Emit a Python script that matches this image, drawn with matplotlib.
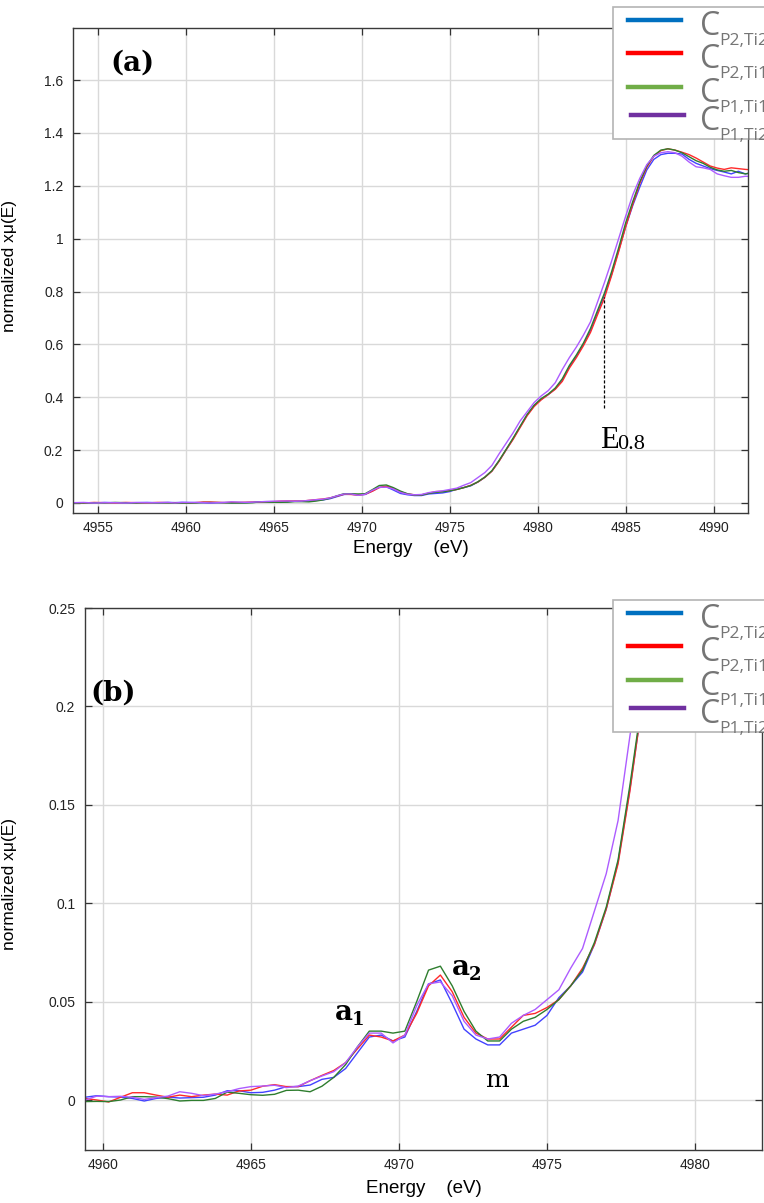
import matplotlib
matplotlib.use("Agg")
import matplotlib.pyplot as plt
from matplotlib.lines import Line2D
from matplotlib.patches import Rectangle

plt.rcParams['font.family'] = ['Liberation Sans', 'DejaVu Sans']

# energy grid (eV)
energy = [4953.6, 4954.2, 4954.8, 4955.4, 4956.0, 4956.6, 4957.2, 4957.8, 4958.4, 4959.0,
          4959.4, 4959.8, 4960.2, 4960.6, 4961.0, 4961.4, 4961.8, 4962.2, 4962.6, 4963.0,
          4963.4, 4963.8, 4964.2, 4964.6, 4965.0, 4965.4, 4965.8, 4966.2, 4966.6, 4967.0,
          4967.4, 4967.8, 4968.2, 4968.6, 4969.0, 4969.4, 4969.8, 4970.2, 4970.6, 4971.0,
          4971.4, 4971.8, 4972.2, 4972.6, 4973.0, 4973.4, 4973.8, 4974.2, 4974.6, 4975.0,
          4975.4, 4975.8, 4976.2, 4976.6, 4977.0, 4977.4, 4977.8, 4978.2,
          4978.6, 4979.0, 4979.4, 4979.8, 4980.2, 4980.6, 4981.0, 4981.4, 4981.8, 4982.2,
          4982.6, 4983.0, 4983.4, 4983.8, 4984.2, 4984.6, 4985.0, 4985.4, 4985.8, 4986.2,
          4986.6, 4987.0, 4987.4, 4987.8, 4988.2, 4988.6, 4989.0, 4989.4, 4989.8, 4990.2,
          4990.6, 4991.0, 4991.4, 4991.8, 4992.2, 4992.6]

# normalized absorption, one list per sample
mu_p2_ti2 = [0.000, 0.001, 0.000, 0.002, 0.001, 0.000, 0.001, 0.002, 0.001, 0.002,
             0.0014, 0.0022, 0.0017, 0.0015, 0.0008, -0.0005, 0.0008, 0.0015, 0.0010, 0.0012,
             0.0014, 0.0025, 0.0047, 0.0047, 0.0037, 0.0039, 0.0050, 0.0068, 0.0068, 0.0076,
             0.0105, 0.0115, 0.016, 0.024, 0.032, 0.033, 0.030, 0.032, 0.045, 0.059,
             0.061, 0.049, 0.036, 0.031, 0.028, 0.028, 0.034, 0.036, 0.038, 0.043,
             0.052, 0.058, 0.065, 0.079, 0.097, 0.121, 0.158, 0.200,
             0.242, 0.288, 0.332, 0.368, 0.392, 0.41, 0.432, 0.465, 0.515, 0.555,
             0.6, 0.652, 0.72, 0.788, 0.865, 0.955, 1.045, 1.125, 1.195, 1.26,
             1.3, 1.318, 1.323, 1.323, 1.32, 1.3, 1.285, 1.275, 1.265, 1.258,
             1.252, 1.245, 1.255, 1.245, 1.25, 1.248]
mu_p2_ti1 = [0.001, 0.000, 0.002, 0.001, 0.000, 0.002, 0.001, 0.000, 0.002, 0.001,
             0.0008, 0.0000, -0.0010, 0.0014, 0.0037, 0.0037, 0.0025, 0.0014, 0.0025, 0.0017,
             0.0025, 0.0030, 0.0025, 0.0046, 0.0050, 0.0070, 0.0078, 0.0068, 0.0068, 0.0098,
             0.0125, 0.0150, 0.019, 0.026, 0.033, 0.032, 0.030, 0.033, 0.044, 0.058,
             0.0635, 0.055, 0.042, 0.034, 0.031, 0.031, 0.037, 0.043, 0.044, 0.047,
             0.051, 0.058, 0.067, 0.079, 0.097, 0.120, 0.157, 0.200,
             0.24, 0.285, 0.33, 0.365, 0.39, 0.41, 0.43, 0.46, 0.51, 0.55,
             0.595, 0.645, 0.712, 0.777, 0.86, 0.95, 1.045, 1.13, 1.209, 1.27,
             1.312, 1.333, 1.34, 1.335, 1.327, 1.318, 1.305, 1.29, 1.275, 1.267,
             1.262, 1.268, 1.265, 1.262, 1.26, 1.258]
mu_p1_ti1 = [0.000, 0.000, 0.001, 0.000, 0.002, 0.001, 0.000, 0.001, 0.000, 0.000,
             -0.0008, -0.0007, -0.0008, 0.0000, 0.0017, 0.0017, 0.0015, 0.0007, -0.0005, -0.0002,
             -0.0002, 0.0008, 0.0040, 0.0034, 0.0027, 0.0024, 0.0029, 0.0049, 0.0050, 0.0042,
             0.0070, 0.0115, 0.018, 0.027, 0.035, 0.035, 0.034, 0.035, 0.050, 0.066,
             0.068, 0.058, 0.045, 0.035, 0.030, 0.030, 0.036, 0.040, 0.042, 0.046,
             0.051, 0.058, 0.066, 0.080, 0.098, 0.122, 0.160, 0.202,
             0.245, 0.29, 0.335, 0.37, 0.395, 0.412, 0.435, 0.47, 0.52, 0.56,
             0.605, 0.66, 0.728, 0.795, 0.875, 0.965, 1.06, 1.14, 1.215, 1.275,
             1.315, 1.335, 1.34, 1.335, 1.325, 1.31, 1.295, 1.285, 1.27, 1.26,
             1.255, 1.258, 1.25, 1.245, 1.25, 1.25]
mu_p1_ti2 = [0.001, 0.002, 0.000, 0.001, 0.001, 0.000, 0.002, 0.001, 0.001, 0.002,
             0.0000, 0.0020, 0.0017, 0.0019, 0.0014, 0.0003, 0.0012, 0.0020, 0.0042, 0.0034,
             0.0022, 0.0030, 0.0042, 0.0058, 0.0068, 0.0071, 0.0075, 0.0063, 0.0071, 0.0098,
             0.0122, 0.0144, 0.019, 0.027, 0.034, 0.034, 0.029, 0.033, 0.048, 0.059,
             0.060, 0.053, 0.040, 0.033, 0.031, 0.032, 0.039, 0.043, 0.046, 0.051,
             0.056, 0.067, 0.077, 0.096, 0.115, 0.142, 0.185, 0.225,
             0.265, 0.31, 0.345, 0.38, 0.405, 0.425, 0.455, 0.505, 0.55, 0.59,
             0.635, 0.685, 0.76, 0.835, 0.915, 1.0, 1.085, 1.165, 1.228, 1.28,
             1.312, 1.325, 1.329, 1.325, 1.312, 1.29, 1.272, 1.268, 1.262, 1.245,
             1.238, 1.232, 1.232, 1.236, 1.235, 1.234]

series = [mu_p2_ti2, mu_p2_ti1, mu_p1_ti1, mu_p1_ti2]
labels = ['P2,Ti2', 'P2,Ti1', 'P1,Ti1', 'P1,Ti2']
line_colors = ['#4242ff', '#ff2a2a', '#2e7d2e', '#ad5cff']
legend_colors = ['#0070c0', '#ff0000', '#70ad47', '#7030a0']

ticks_a = [0, 0.2, 0.4, 0.6, 0.8, 1.0, 1.2, 1.4, 1.6]
ticklabels_a = ['0', '0.2', '0.4', '0.6', '0.8', '1', '1.2', '1.4', '1.6']
ticks_b = [0, 0.05, 0.1, 0.15, 0.2, 0.25]
ticklabels_b = ['0', '0.05', '0.1', '0.15', '0.2', '0.25']

W, H = 764, 1203
fig = plt.figure(figsize=(W / 100, H / 100), dpi=100)


def fx(x):
    return x / W


def fy(y):
    return 1 - y / H


def style_axes(ax):
    for s in ax.spines.values():
        s.set_color('#3a3a3a')
        s.set_linewidth(1.0)
    ax.tick_params(direction='in', top=True, right=True, length=5, width=0.9,
                   color='#333333', labelsize=10, labelcolor='#222222')
    ax.tick_params(axis='x', pad=6)
    ax.tick_params(axis='y', pad=7)
    ax.grid(True, color='#d9d9d9', lw=1.0)
    ax.set_axisbelow(True)


def draw_legend(top):
    rect = Rectangle((fx(613), fy(top + 132)), 200 / W, 132 / H, transform=fig.transFigure,
                     facecolor='white', edgecolor='#b4b4b4', lw=1.2, zorder=10)
    fig.add_artist(rect)
    offsets = [13, 46, 80, 108]
    for i, off in enumerate(offsets):
        x0 = 631 if i == 3 else 628
        fig.add_artist(Line2D([fx(x0), fx(x0 + 53)], [fy(top + off)] * 2,
                              transform=fig.transFigure, color=legend_colors[i],
                              lw=3.2, zorder=11))
        fig.text(fx(700), fy(top + off + 15), 'C', fontsize=23, color='#757575',
                 family='Open Sans', va='baseline', zorder=12)
        fig.text(fx(719), fy(top + off + 25), labels[i], fontsize=12.5, color='#757575',
                 family='Open Sans', va='baseline', zorder=12)


# panel (a)
ax1 = fig.add_axes([fx(73), fy(513), (748 - 73) / W, (513 - 28) / H])
for vals, c in zip(series, line_colors):
    ax1.plot(energy, vals, color=c, lw=1.0)
ax1.set_xlim(4953.6, 4991.95)
ax1.set_ylim(-0.038, 1.797)
ax1.set_xticks([4955, 4960, 4965, 4970, 4975, 4980, 4985, 4990])
ax1.set_yticks(ticks_a)
ax1.set_yticklabels(ticklabels_a)
style_axes(ax1)
ax1.set_xlabel('Energy    (eV)', fontsize=13.5)
ax1.xaxis.set_label_coords(0.5, -0.056)
ax1.set_ylabel('normalized xμ(E)', fontsize=12.5)
ax1.yaxis.set_label_coords(-0.083, 0.51)
ax1.text(0.055, 0.913, '(a)', transform=ax1.transAxes, fontsize=20,
         fontweight='bold', family='DejaVu Serif', va='baseline')
ax1.plot([4983.76, 4983.76], [0.36, 0.78], color='black', lw=0.9, ls=(0, (2.5, 1.5)))
ax1.text(4983.53, 0.208, 'E', fontsize=22, family='Liberation Serif', va='baseline')
ax1.text(4984.5, 0.204, '0.8', fontsize=16, family='Liberation Serif', va='baseline')

# panel (b)
ax2 = fig.add_axes([fx(85), fy(1150), (762 - 85) / W, (1150 - 608) / H])
for vals, c in zip(series, line_colors):
    ax2.plot(energy, vals, color=c, lw=1.0)
ax2.set_xlim(4959.4, 4982.26)
ax2.set_ylim(-0.0254, 0.25)
ax2.set_xticks([4960, 4965, 4970, 4975, 4980])
ax2.set_yticks(ticks_b)
ax2.set_yticklabels(ticklabels_b)
style_axes(ax2)
ax2.set_xlabel('Energy    (eV)', fontsize=13.5)
ax2.xaxis.set_label_coords(0.5, -0.055)
ax2.set_ylabel('normalized xμ(E)', fontsize=12.5)
ax2.yaxis.set_label_coords(-0.1, 0.49)
ax2.text(0.0074, 0.83, '(b)', transform=ax2.transAxes, fontsize=20,
         fontweight='bold', family='DejaVu Serif', va='baseline')
ax2.text(4967.84, 0.0407, 'a', fontsize=20, fontweight='bold', family='DejaVu Serif',
         va='baseline')
ax2.text(4968.42, 0.0380, '1', fontsize=13, fontweight='bold', family='DejaVu Serif',
         va='baseline')
ax2.text(4971.79, 0.0635, 'a', fontsize=20, fontweight='bold', family='DejaVu Serif',
         va='baseline')
ax2.text(4972.37, 0.0608, '2', fontsize=13, fontweight='bold', family='DejaVu Serif',
         va='baseline')
ax2.text(4972.9, 0.0066, 'm', fontsize=18, family='DejaVu Serif', va='baseline')

draw_legend(7)
draw_legend(600)

fig.savefig('out.png', dpi=100)
